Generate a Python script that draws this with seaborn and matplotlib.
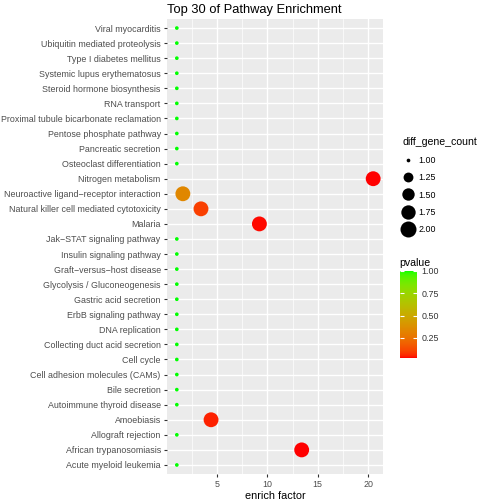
import numpy as np
import pandas as pd
import matplotlib
matplotlib.use("Agg")
import matplotlib.pyplot as plt
from matplotlib.colors import ListedColormap, Normalize
from matplotlib.lines import Line2D
from matplotlib.cm import ScalarMappable
import seaborn as sns

# ---------------- data (bottom to top) ----------------
pathways = [
    "Acute myeloid leukemia", "African trypanosomiasis", "Allograft rejection",
    "Amoebiasis", "Autoimmune thyroid disease", "Bile secretion",
    "Cell adhesion molecules (CAMs)", "Cell cycle", "Collecting duct acid secretion",
    "DNA replication", "ErbB signaling pathway", "Gastric acid secretion",
    "Glycolysis / Gluconeogenesis", "Graft\u2212versus\u2212host disease",
    "Insulin signaling pathway", "Jak\u2212STAT signaling pathway", "Malaria",
    "Natural killer cell mediated cytotoxicity",
    "Neuroactive ligand\u2212receptor interaction", "Nitrogen metabolism",
    "Osteoclast differentiation", "Pancreatic secretion", "Pentose phosphate pathway",
    "Proximal tubule bicarbonate reclamation", "RNA transport",
    "Steroid hormone biosynthesis", "Systemic lupus erythematosus",
    "Type I diabetes mellitus", "Ubiquitin mediated proteolysis", "Viral myocarditis",
]
enrich_factor = [1.0, 13.4, 1.0, 4.4, 1.0, 1.0, 1.0, 1.0, 1.0, 1.0,
                 1.0, 1.0, 1.0, 1.0, 1.0, 1.0, 9.2, 3.4, 1.6, 20.5,
                 1.0, 1.0, 1.0, 1.0, 1.0, 1.0, 1.0, 1.0, 1.0, 1.0]
diff_gene_count = [1, 2, 1, 2, 1, 1, 1, 1, 1, 1,
                   1, 1, 1, 1, 1, 1, 2, 2, 2, 2,
                   1, 1, 1, 1, 1, 1, 1, 1, 1, 1]
pvalue = [1.0, 0.028, 1.0, 0.05, 1.0, 1.0, 1.0, 1.0, 1.0, 1.0,
          1.0, 1.0, 1.0, 1.0, 1.0, 1.0, 0.03, 0.10, 0.34, 0.026,
          1.0, 1.0, 1.0, 1.0, 1.0, 1.0, 1.0, 1.0, 1.0, 1.0]
size_legend_values = [1.00, 1.25, 1.50, 1.75, 2.00]
color_ticks = [0.25, 0.50, 0.75, 1.00]

df = pd.DataFrame({"pathway": pathways, "enrich": enrich_factor,
                   "count": diff_gene_count, "pvalue": pvalue})

# ---------------- Lab-interpolated red->green gradient (like ggplot) ----------------
def srgb_to_lab(rgb):
    rgb = np.asarray(rgb, float)
    lin = np.where(rgb <= 0.04045, rgb / 12.92, ((rgb + 0.055) / 1.055) ** 2.4)
    M = np.array([[0.4124, 0.3576, 0.1805], [0.2126, 0.7152, 0.0722], [0.0193, 0.1192, 0.9505]])
    xyz = M @ lin / np.array([0.95047, 1.0, 1.08883])
    f = np.where(xyz > 0.008856, np.cbrt(xyz), 7.787 * xyz + 16 / 116)
    return np.array([116 * f[1] - 16, 500 * (f[0] - f[1]), 200 * (f[1] - f[2])])

def lab_to_srgb(lab):
    L, a, b = lab
    fy = (L + 16) / 116
    fx = fy + a / 500
    fz = fy - b / 200
    f = np.array([fx, fy, fz])
    xyz = np.where(f ** 3 > 0.008856, f ** 3, (f - 16 / 116) / 7.787) * np.array([0.95047, 1.0, 1.08883])
    Minv = np.array([[3.2406, -1.5372, -0.4986], [-0.9689, 1.8758, 0.0415], [0.0557, -0.2040, 1.0570]])
    lin = np.clip(Minv @ xyz, 0, 1)
    return np.clip(np.where(lin <= 0.0031308, 12.92 * lin, 1.055 * lin ** (1 / 2.4) - 0.055), 0, 1)

lab_lo = srgb_to_lab([1, 0, 0])
lab_hi = srgb_to_lab([0, 1, 0])
cmap = ListedColormap([lab_to_srgb(lab_lo + t * (lab_hi - lab_lo)) for t in np.linspace(0, 1, 256)])
vmin, vmax = min(pvalue), max(pvalue)

# ---------------- figure ----------------
plt.rcParams["font.family"] = ["Liberation Sans", "DejaVu Sans"]
W, H = 480, 500
fig = plt.figure(figsize=(W / 100, H / 100), dpi=100)
ax = fig.add_axes([167 / W, 1 - 474 / H, 216 / W, 455 / H])
ax.set_facecolor("#EBEBEB")

def diam_px(v):
    t = (v - 1.0) / 1.0
    return 2.46 * (1 + 5 * np.sqrt(max(t, 0)) + 0.5)

s_small = (diam_px(1.0) * 0.72) ** 2
s_big = (diam_px(2.0) * 0.72 * 0.93) ** 2

sns.scatterplot(data=df, x="enrich", y="pathway", hue="pvalue", size="count",
                palette=cmap, hue_norm=(vmin, vmax), sizes=(s_small, s_big),
                size_norm=(1, 2), linewidth=0, legend=False, ax=ax, zorder=3)

ax.set_ylim(-0.6, len(pathways) - 0.4)
ax.set_xlim(0.025, 21.475)
ax.set_xticks([5, 10, 15, 20])
ax.set_xticks([2.5, 7.5, 12.5, 17.5], minor=True)
ax.grid(True, which="major", color="white", linewidth=1.0, zorder=0)
ax.grid(True, which="minor", axis="x", color="white", linewidth=0.5, zorder=0)
ax.set_axisbelow(True)
for sp in ax.spines.values():
    sp.set_visible(False)
ax.tick_params(axis="both", which="major", length=2.5, width=0.8, color="#333333",
               labelsize=6.4, labelcolor="#4D4D4D", pad=2)
ax.tick_params(axis="x", which="minor", length=0)
ax.set_xlabel("enrich factor", fontsize=7.8, color="black", labelpad=1)
ax.set_ylabel("")
ax.set_title("Top 30 of Pathway Enrichment", fontsize=9.3, loc="left", pad=4, color="black")

# ---------------- size legend ----------------
handles = [Line2D([], [], linestyle="none", marker="o", markerfacecolor="black",
                  markeredgecolor="black", markeredgewidth=0,
                  markersize=diam_px(v) * 0.72) for v in size_legend_values]
leg = fig.legend(handles, [f"{v:.2f}" for v in size_legend_values],
                 title="diff_gene_count", loc="upper left",
                 bbox_to_anchor=(396 / W, 1 - 131 / H), frameon=False,
                 fontsize=6.4, title_fontsize=7.6, handlelength=1.4, handletextpad=0.4,
                 labelspacing=0.95, borderpad=0.2, alignment="left")

# ---------------- colour bar ----------------
cax = fig.add_axes([400 / W, 1 - 358 / H, 17 / W, 87 / H])
cb = fig.colorbar(ScalarMappable(norm=Normalize(vmin, vmax), cmap=cmap), cax=cax,
                  ticks=color_ticks)
cb.outline.set_visible(False)
cb.ax.set_yticklabels([f"{t:.2f}" for t in color_ticks])
cax.tick_params(axis="y", direction="in", length=3, width=0.8, color="white",
                labelsize=6.4, labelcolor="#333333", pad=3, left=True, right=True)
fig.text(399 / W, 1 - 263 / H, "pvalue", fontsize=7.6, va="center", ha="left")

fig.savefig("out.png", dpi=100)
